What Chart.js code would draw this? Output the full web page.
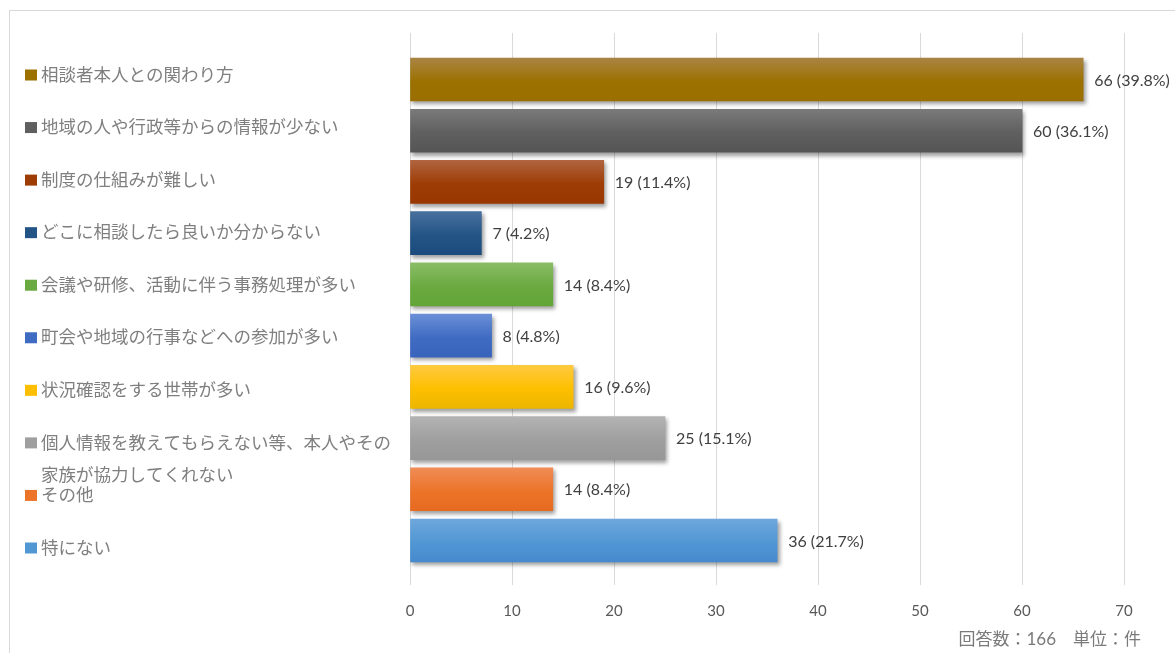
<!DOCTYPE html>
<html lang="ja">
<head>
<meta charset="utf-8">
<title>課題</title>
<script src="https://cdn.jsdelivr.net/npm/chart.js@4/dist/chart.umd.min.js"></script>
<style>
  html, body { margin: 0; padding: 0; background: #fff; overflow: hidden; }
  #frame { position: absolute; left: 9px; top: 10px; width: 1300px; height: 800px;
           border: 1px solid #d9d9d9; box-sizing: border-box; }
  #chart { position: absolute; left: 0; top: 0; }
</style>
</head>
<body>
<div id="frame"></div>
<canvas id="chart" width="1175" height="653"></canvas>
<script>
(function () {
  'use strict';

  // ------------------------------------------------------------- data ----
  const CATEGORIES = [
    ['相談者本人との関わり方'],
    ['地域の人や行政等からの情報が少ない'],
    ['制度の仕組みが難しい'],
    ['どこに相談したら良いか分からない'],
    ['会議や研修、活動に伴う事務処理が多い'],
    ['町会や地域の行事などへの参加が多い'],
    ['状況確認をする世帯が多い'],
    ['個人情報を教えてもらえない等、本人やその', '家族が協力してくれない'],
    ['その他'],
    ['特にない'],
  ];
  const COUNTS = [66, 60, 19, 7, 14, 8, 16, 25, 14, 36];
  const PERCENTS = [39.8, 36.1, 11.4, 4.2, 8.4, 4.8, 9.6, 15.1, 8.4, 21.7];
  const X_MAX = 70;
  const X_STEP = 10;
  const FOOTNOTE = '回答数：166　単位：件';

  // bar fill: lighter top edge fading into the base colour
  const COLOR_BASE   = ['#9c7100', '#5f5f5f', '#9e3c05', '#235486', '#6aaa40', '#3f6cc2', '#fdbf00', '#9f9f9f', '#ec7429', '#5197d4'];
  const COLOR_TOP    = ['#aa8444', '#7a7a7a', '#b0643f', '#48709e', '#8abd66', '#6a8fd6', '#ffca40', '#b3b3b3', '#f08c56', '#6ea7dc'];
  const COLOR_BOTTOM = ['#9a6e00', '#555555', '#9a3700', '#1c4c7e', '#63a537', '#3964bd', '#ecb600', '#979797', '#e66a20', '#4689cd'];

  const JP_FONT = "'Noto Sans CJK JP', 'Noto Sans', sans-serif";
  const NUM_FONT = "Lato, 'Noto Sans', sans-serif";
  const BAR_THICKNESS = 43;

  function barFill(c) {
    const i = c.dataIndex;
    const y = c.chart.scales && c.chart.scales.y;
    if (i == null || !y) return COLOR_BASE[i || 0];
    const py = y.getPixelForValue(i);
    if (!Number.isFinite(py)) return COLOR_BASE[i];
    const g = c.chart.ctx.createLinearGradient(0, py - BAR_THICKNESS / 2, 0, py + BAR_THICKNESS / 2);
    g.addColorStop(0, COLOR_TOP[i]);
    g.addColorStop(0.55, COLOR_BASE[i]);
    g.addColorStop(1, COLOR_BOTTOM[i]);
    return g;
  }

  // ------------------------------------------- shadow, labels, legend ----
  const decorations = {
    id: 'decorations',
    beforeDatasetsDraw(chart) {
      const ctx = chart.ctx;
      ctx.save();
      ctx.shadowColor = 'rgba(0,0,0,0.38)';
      ctx.shadowBlur = 4;
      ctx.shadowOffsetX = 2;
      ctx.shadowOffsetY = 3;
    },
    afterDatasetsDraw(chart) {
      const ctx = chart.ctx;
      ctx.restore();
      const meta = chart.getDatasetMeta(0);

      // value labels at the end of each bar
      ctx.save();
      ctx.font = '16px ' + NUM_FONT;
      ctx.fillStyle = '#404040';
      ctx.textBaseline = 'middle';
      ctx.textAlign = 'left';
      meta.data.forEach((bar, i) => {
        ctx.fillText(`${COUNTS[i]} (${PERCENTS[i].toFixed(1)}%)`, bar.x + 11, bar.y + 1);
      });
      ctx.restore();

      // category legend down the left side
      const area = chart.chartArea;
      const first = area.top + 41;
      const last = area.bottom - 38;
      const step = (last - first) / (CATEGORIES.length - 1);
      ctx.save();
      ctx.font = '17.5px ' + JP_FONT;
      ctx.textBaseline = 'middle';
      ctx.textAlign = 'left';
      CATEGORIES.forEach((lines, i) => {
        const cy = first + step * i;
        ctx.fillStyle = COLOR_BASE[i];
        ctx.fillRect(25, cy - 4.5, 12, 11);
        ctx.fillStyle = '#7f7f7f';
        lines.forEach((t, k) => ctx.fillText(t, 41, cy + k * 32));
      });
      ctx.restore();

      // footnote under the axis
      ctx.save();
      ctx.font = "17px Lato, 'Noto Sans CJK JP', sans-serif";
      ctx.fillStyle = '#7a7a7a';
      ctx.textBaseline = 'middle';
      ctx.textAlign = 'right';
      ctx.fillText(FOOTNOTE, 1141, 640);
      ctx.restore();
    },
  };

  // ------------------------------------------------------------ chart ----
  new Chart(document.getElementById('chart'), {
    type: 'bar',
    data: {
      datasets: [{
        data: COUNTS.map((v, i) => ({ x: v, y: i })),
        backgroundColor: barFill,
        borderWidth: 0,
        barThickness: BAR_THICKNESS,
      }],
    },
    options: {
      indexAxis: 'y',
      responsive: false,
      devicePixelRatio: 1,
      animation: false,
      layout: { padding: { left: 410, right: 51, top: 33, bottom: 16 } },
      scales: {
        x: {
          type: 'linear', min: 0, max: X_MAX,
          border: { display: false },
          grid: { color: '#d9d9d9', lineWidth: 1, drawTicks: false },
          ticks: { stepSize: X_STEP, padding: 17, color: '#595959', font: { family: NUM_FONT, size: 15 } },
        },
        y: {
          type: 'linear', reverse: true, offset: false, min: -0.908, max: 9.869,
          display: false,
        },
      },
      plugins: {
        legend: { display: false },
        tooltip: { enabled: false },
      },
    },
    plugins: [decorations],
  });
})();
</script>
</body>
</html>
